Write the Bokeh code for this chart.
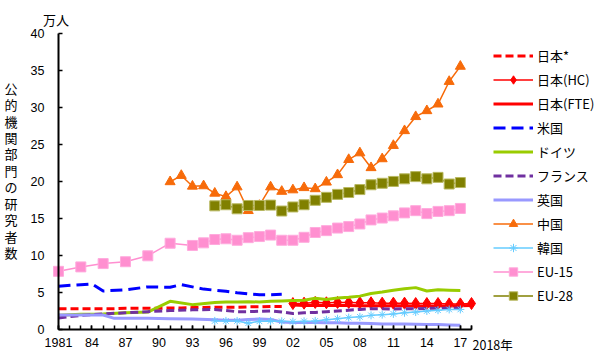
from bokeh.plotting import figure
from bokeh.models import FixedTicker, Legend, LegendItem, Label, Range1d
from bokeh.embed import file_html
from bokeh.resources import INLINE

# ---------------- data (万人) ----------------
jp_star_years = list(range(1981, 2002))
jp_star_vals = [2.85, 2.85, 2.85, 2.85, 2.85, 2.85, 2.9, 2.9, 2.9, 2.9, 2.95,
                2.95, 3.0, 3.0, 3.05, 3.05, 3.05, 3.1, 3.1, 3.15, 3.15]

jp_hc_years = list(range(2002, 2019))
jp_hc_vals = [3.55, 3.6, 3.7, 3.65, 3.7, 3.7, 3.65, 3.65, 3.6, 3.6, 3.6,
              3.55, 3.55, 3.55, 3.5, 3.5, 3.55]

jp_fte_years = list(range(2002, 2019))
jp_fte_vals = [3.35, 3.3, 3.3, 3.3, 3.3, 3.3, 3.25, 3.25, 3.25, 3.25, 3.25,
               3.2, 3.2, 3.2, 3.2, 3.25, 3.3]

us_years = [1981, 1983, 1984, 1985, 1987, 1989, 1991, 1992, 1993, 1994, 1995,
            1996, 1997, 1998, 1999, 2000, 2001]
us_vals = [5.9, 6.1, 6.2, 5.25, 5.4, 5.8, 5.75, 6.1, 5.8, 5.5, 5.35,
           5.2, 5.0, 4.85, 4.75, 4.75, 4.8]

de_years = [1981, 1983, 1985, 1987, 1989, 1991, 1993] + list(range(1995, 2018))
de_vals = [1.95, 2.1, 2.15, 2.3, 2.4, 3.85, 3.4,
           3.7, 3.75, 3.75, 3.8, 3.75, 3.85, 3.9, 3.95, 4.0, 4.25, 4.1, 4.3,
           4.4, 4.55, 4.9, 5.1, 5.35, 5.55, 5.7, 5.25, 5.4, 5.35, 5.3]

fr_years = [1981, 1983, 1985, 1987, 1989, 1991, 1993] + list(range(1995, 2018))
fr_vals = [1.6, 1.95, 2.15, 2.3, 2.45, 2.6, 2.7,
           2.75, 2.6, 2.45, 2.45, 2.5, 2.55, 2.4, 2.2, 2.3, 2.35, 2.45, 2.55,
           2.65, 2.75, 2.85, 2.85, 2.8, 2.85, 2.85, 2.9, 2.9, 2.9, 2.95]

uk_years = [1981, 1983, 1985, 1986, 1987, 1989, 1991, 1993] + list(range(1995, 2018))
uk_vals = [2.0, 2.0, 2.0, 1.55, 1.55, 1.55, 1.5, 1.45,
           1.35, 1.3, 1.3, 1.4, 1.45, 1.4, 1.05, 1.0, 1.0, 1.0, 0.95, 0.95,
           0.9, 0.9, 0.85, 0.8, 0.8, 0.8, 0.75, 0.7, 0.7, 0.65, 0.6]

cn_years = list(range(1991, 2018))
cn_vals = [20.0, 20.85, 19.4, 19.45, 18.45, 18.0, 19.3, 16.1, 16.8, 19.3,
           18.7, 18.9, 19.2, 19.05, 19.95, 20.95, 23.0, 23.9, 21.9, 23.1,
           24.9, 26.9, 28.8, 29.6, 30.5, 33.55, 35.6]

kr_years = list(range(1995, 2018))
kr_vals = [1.2, 1.2, 1.2, 0.9, 1.15, 1.2, 1.15, 1.1, 1.15, 1.2, 1.35, 1.5,
           1.65, 1.75, 1.95, 2.05, 2.15, 2.3, 2.4, 2.55, 2.65, 2.75, 2.75]

eu15_years = [1981, 1983, 1985, 1987, 1989, 1991, 1993] + list(range(1994, 2018))
eu15_vals = [7.9, 8.5, 8.95, 9.2, 10.0, 11.7, 11.4,
             11.75, 12.2, 12.3, 12.1, 12.45, 12.6, 12.8, 12.1, 12.1, 12.5,
             13.15, 13.4, 13.75, 13.95, 14.3, 14.85, 15.1, 15.4, 15.8, 16.1,
             15.7, 16.0, 16.1, 16.4]

eu28_years = list(range(1995, 2018))
eu28_vals = [16.75, 16.9, 16.35, 16.8, 16.8, 16.85, 16.05, 16.6, 16.9, 17.5,
             17.9, 18.3, 18.55, 18.95, 19.6, 19.8, 20.05, 20.4, 20.7, 20.4,
             20.6, 19.7, 19.9]

x_tick_years = list(range(1981, 2018, 3))
x_tick_labels = ["1981", "84", "87", "90", "93", "96", "99", "02", "05",
                 "08", "11", "14", "17"]
y_ticks = [0, 5, 10, 15, 20, 25, 30, 35, 40]

y_title = "公的機関部門の研究者数"
unit_text = "万人"
year_unit_text = "2018年"

JP_FONT = "Noto Sans CJK JP"
NUM_FONT = "Liberation Sans"

# The frame fills the whole canvas; axes are pinned with fixed_location and bounds
X0, X1 = 1981, 2018
Y0, Y1 = 0, 40
px_per_year = 413 / (X1 - X0)
px_per_unit = 296 / (Y1 - Y0)
x_start = X0 - 58 / px_per_year
x_end = x_start + 600 / px_per_year
y_end = Y1 + 33.3 / px_per_unit
y_start = y_end - 359 / px_per_unit

p = figure(width=600, height=359, output_backend="svg", toolbar_location=None,
           x_range=Range1d(x_start, x_end), y_range=Range1d(y_start, y_end),
           min_border_left=0, min_border_right=0, min_border_top=0,
           min_border_bottom=0)
p.title.visible = False
p.outline_line_color = None
p.xgrid.visible = False
p.ygrid.visible = False
p.background_fill_color = "white"
p.border_fill_color = "white"

xa = p.xaxis[0]
ya = p.yaxis[0]
xa.fixed_location = Y0
ya.fixed_location = X0
xa.bounds = (X0, X1)
ya.bounds = (Y0, Y1)

for ax in (xa, ya):
    ax.axis_line_color = "black"
    ax.axis_line_width = 2
    ax.major_tick_line_color = "black"
    ax.major_tick_line_width = 1.5
    ax.minor_tick_line_color = "black"
    ax.minor_tick_line_width = 1.5
    ax.major_tick_in = 4
    ax.major_tick_out = 0
    ax.minor_tick_in = 4
    ax.minor_tick_out = 0
    ax.major_label_text_font = NUM_FONT
    ax.major_label_text_font_size = "12.5px"
    ax.major_label_text_color = "black"

x_overrides = {y: l for y, l in zip(x_tick_years, x_tick_labels)}
x_overrides[X1] = ""
xa.ticker = FixedTicker(ticks=x_tick_years + [X1],
                        minor_ticks=list(range(X0, X1 + 1)))
xa.major_label_overrides = x_overrides
xa.major_label_standoff = 8
ya.ticker = FixedTicker(ticks=y_ticks, minor_ticks=[])
ya.major_label_standoff = 14

items = []

def add_line(label, xs, ys, color, width, dash="solid", marker=None, msize=9,
             mline=None):
    r = p.line(xs, ys, line_color=color, line_width=width, line_dash=dash)
    rs = [r]
    if marker is not None:
        m = p.scatter(xs, ys, marker=marker, size=msize, fill_color=color,
                      line_color=mline or color, line_width=1)
        rs.append(m)
    items.append(LegendItem(label=label, renderers=rs))

add_line("日本*", jp_star_years, jp_star_vals, "#FF0000", 3, "8 4")
add_line("日本(HC)", jp_hc_years, jp_hc_vals, "#FF0000", 1.5, marker="diamond", msize=12)
add_line("日本(FTE)", jp_fte_years, jp_fte_vals, "#FF0000", 3)
add_line("米国", us_years, us_vals, "#0000FF", 3, "12 6")
add_line("ドイツ", de_years, de_vals, "#99CC00", 3)
add_line("フランス", fr_years, fr_vals, "#7030A0", 3, "8 4")
add_line("英国", uk_years, uk_vals, "#9999FF", 3)
add_line("中国", cn_years, cn_vals, "#F76B0A", 1.5, marker="triangle", msize=10)
add_line("韓国", kr_years, kr_vals, "#66CCFF", 1.5, marker="asterisk", msize=8)
add_line("EU-15", eu15_years, eu15_vals, "#FF8FD0", 1.5, marker="square", msize=10, mline="#FFAADD")
add_line("EU-28", eu28_years, eu28_vals, "#808000", 1.5, marker="square", msize=10, mline="#B8B860")

legend = Legend(items=items, location=(493, 53.5), padding=0, margin=0,
                spacing=3, label_height=21, glyph_height=21, glyph_width=40,
                label_standoff=4, border_line_color=None,
                background_fill_alpha=0, label_text_font=JP_FONT,
                label_text_font_size="13px", label_text_color="black")
p.add_layout(legend)

# texts placed through the plot's scales
p.add_layout(Label(x=X0 - 2.5 / px_per_year, y=Y1 + 14.3 / px_per_unit, text=unit_text,
                   text_font=JP_FONT, text_font_size="13px", text_align="center",
                   text_baseline="middle", text_color="black"))
p.add_layout(Label(x=X0 - 47.5 / px_per_year, y=21.55, text="\n".join(y_title),
                   text_font=JP_FONT, text_font_size="13px",
                   text_line_height=0.865, text_align="center",
                   text_baseline="middle", text_color="black"))
p.add_layout(Label(x=X1 + 1 / px_per_year, y=Y0 - 14.7 / px_per_unit, text=year_unit_text,
                   text_font=JP_FONT, text_font_size="12.5px", text_align="left",
                   text_baseline="middle", text_color="black"))

open("out.html", "w").write(file_html(p, INLINE))
